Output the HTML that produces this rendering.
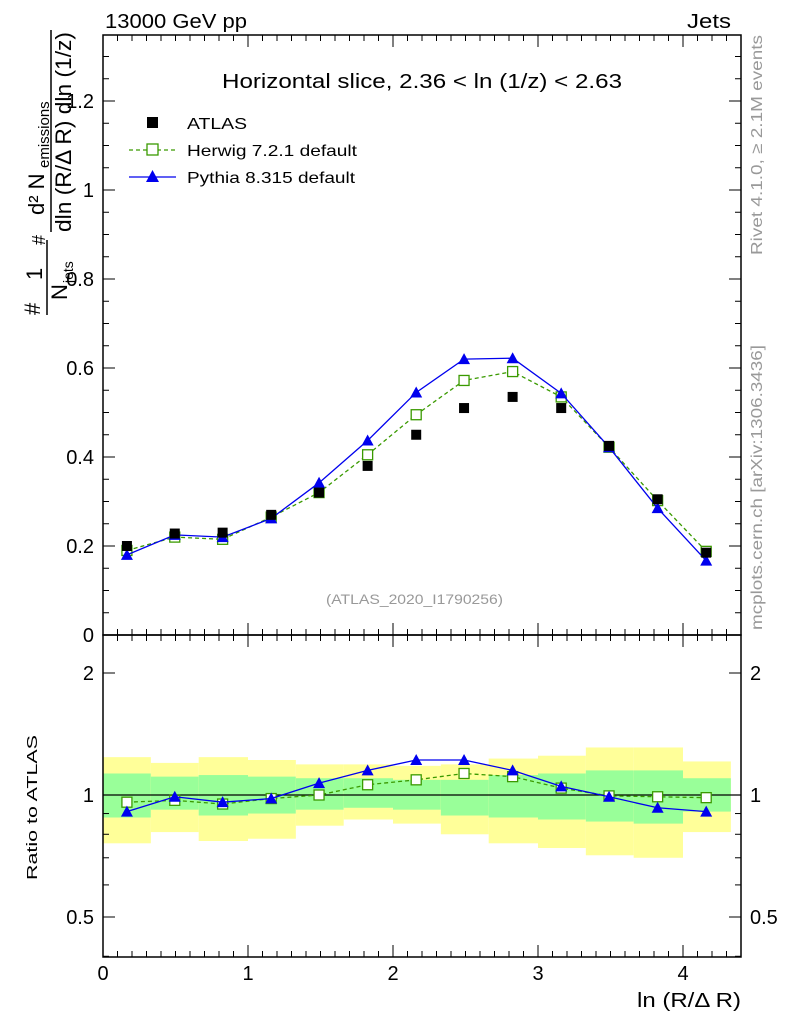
<!DOCTYPE html>
<html><head><meta charset="utf-8"><style>
body{margin:0;background:#fff;}
svg text{font-family:"Liberation Sans",sans-serif;}
</style></head><body>
<svg id="c" width="786" height="1024" viewBox="0 0 786 1024" xmlns="http://www.w3.org/2000/svg">
<g id="bands"></g>
<g id="main"></g>
<g id="ratio"></g>
<g id="axes"></g>
<text x="105" y="28" font-size="20" textLength="142" lengthAdjust="spacingAndGlyphs">13000 GeV pp</text>
<text x="687" y="28" font-size="20" textLength="44" lengthAdjust="spacingAndGlyphs">Jets</text>
<text x="222" y="88" font-size="20" textLength="400" lengthAdjust="spacingAndGlyphs">Horizontal slice, 2.36 &lt; ln (1/z) &lt; 2.63</text>
<text x="326" y="604" font-size="14" fill="#999" textLength="177" lengthAdjust="spacingAndGlyphs">(ATLAS_2020_I1790256)</text>
<text transform="translate(762,255) rotate(-90)" font-size="16" fill="#999" textLength="220" lengthAdjust="spacingAndGlyphs">Rivet 4.1.0, ≥ 2.1M events</text>
<text transform="translate(762,630) rotate(-90)" font-size="16" fill="#999" textLength="285" lengthAdjust="spacingAndGlyphs">mcplots.cern.ch [arXiv:1306.3436]</text>
<g>
<text transform="translate(40,315) rotate(-90)" font-size="22">#</text>
<text transform="translate(42,280) rotate(-90)" font-size="22">1</text>
<line x1="47" y1="240" x2="47" y2="315" stroke="#000" stroke-width="1.5"/>
<text transform="translate(67,300) rotate(-90)" font-size="22">N</text>
<text transform="translate(73,283) rotate(-90)" font-size="14">jets</text>
<text transform="translate(45,245) rotate(-90)" font-size="18">#</text>
<text transform="translate(44,215) rotate(-90)" font-size="22">d² N</text>
<text transform="translate(49,168) rotate(-90)" font-size="15">emissions</text>
<line x1="51" y1="30" x2="51" y2="232" stroke="#000" stroke-width="1.5"/>
<text transform="translate(71,232) rotate(-90)" font-size="22" textLength="200" lengthAdjust="spacingAndGlyphs">dln (R/Δ R) dln (1/z)</text>
</g>
<text transform="translate(37,880) rotate(-90)" font-size="15" textLength="145" lengthAdjust="spacingAndGlyphs">Ratio to ATLAS</text>
<text x="637" y="1007" font-size="20" textLength="104" lengthAdjust="spacingAndGlyphs">ln (R/Δ R)</text>
<g>
<rect x="147" y="117" width="11" height="11" fill="#000"/>
<text x="187" y="129" font-size="16" textLength="60" lengthAdjust="spacingAndGlyphs">ATLAS</text>
<line x1="129" y1="150" x2="176" y2="150" stroke="#3a9a00" stroke-dasharray="4,3" stroke-width="1.3"/>
<rect x="147" y="144" width="11" height="11" fill="#fff" stroke="#3a9a00" stroke-width="1.3"/>
<text x="187" y="156" font-size="16" textLength="170" lengthAdjust="spacingAndGlyphs">Herwig 7.2.1 default</text>
<line x1="129" y1="177" x2="176" y2="177" stroke="#0000ee" stroke-width="1.3"/>
<polygon points="152.5,170 159,182 146,182" fill="#0000ee"/>
<text x="187" y="183" font-size="16" textLength="168" lengthAdjust="spacingAndGlyphs">Pythia 8.315 default</text>
</g>
</svg>
<script>
const xCenters=[0.165,0.495,0.825,1.16,1.49,1.825,2.16,2.49,2.825,3.16,3.49,3.825,4.16];
const binEdges=[0,0.33,0.66,1.0,1.33,1.66,2.0,2.33,2.66,3.0,3.33,3.66,4.0,4.33];
const atlas=[0.2,0.228,0.23,0.27,0.32,0.38,0.45,0.51,0.535,0.51,0.425,0.305,0.185];
const herwig=[0.19,0.22,0.215,0.265,0.32,0.405,0.495,0.572,0.592,0.535,0.422,0.302,0.188];
const pythia=[0.18,0.225,0.22,0.262,0.342,0.437,0.545,0.62,0.622,0.543,0.422,0.285,0.167];
const herwigRatio=[0.96,0.97,0.95,0.98,1.0,1.06,1.09,1.13,1.11,1.04,0.995,0.99,0.985];
const pythiaRatio=[0.91,0.99,0.96,0.98,1.07,1.15,1.22,1.22,1.15,1.05,0.99,0.93,0.91];
const yellowUp=[1.24,1.20,1.24,1.22,1.19,1.19,1.18,1.19,1.23,1.25,1.31,1.31,1.21];
const yellowDown=[0.76,0.81,0.77,0.78,0.84,0.87,0.85,0.80,0.76,0.74,0.71,0.70,0.81];
const greenUp=[1.13,1.11,1.12,1.11,1.10,1.10,1.09,1.09,1.12,1.13,1.15,1.15,1.10];
const greenDown=[0.88,0.92,0.89,0.90,0.92,0.93,0.92,0.89,0.88,0.87,0.86,0.85,0.91];
const xTicks=[0,1,2,3,4];
const yTicks=[0,0.2,0.4,0.6,0.8,1,1.2];
const yTickLabels=["0","0.2","0.4","0.6","0.8","1","1.2"];
const rTicks=[0.5,1,2];
const rTickLabels=["0.5","1","2"];

const NS="http://www.w3.org/2000/svg";
const L=103,R=741,T=35,MB=635,RB=957;
const sx=v=>L+v*145;
const sy=v=>MB-v*445;
const sr=v=>795-Math.log2(v)*122;
function mk(parent,tag,attrs){const e=document.createElementNS(NS,tag);for(const k in attrs)e.setAttribute(k,attrs[k]);document.getElementById(parent).appendChild(e);return e;}

for(let i=0;i<xCenters.length;i++){
 let e=mk('bands','rect',{x:sx(binEdges[i]),width:sx(binEdges[i+1])-sx(binEdges[i]),y:sr(yellowUp[i]),height:sr(yellowDown[i])-sr(yellowUp[i]),fill:'#ffff99'});
 
 
 e=mk('bands','rect',{x:sx(binEdges[i]),width:sx(binEdges[i+1])-sx(binEdges[i]),y:sr(greenUp[i]),height:sr(greenDown[i])-sr(greenUp[i]),fill:'#99ff99'});
 
 
}
let ln=mk('ratio','line',{x1:L,x2:R,y1:sr(1),y2:sr(1),stroke:'#000','stroke-width':1.3});



function series(g,xs,ys,f,color,dash,marker,name){
 const p=mk(g,'polyline',{points:xs.map((x,i)=>sx(x)+','+f(ys[i])).join(' '),fill:'none',stroke:color,'stroke-width':1.3});
 if(dash)p.setAttribute('stroke-dasharray','4,3');
 
 
 xs.forEach((x,i)=>{const X=sx(x),Y=f(ys[i]);let m;
  if(marker==='sq')m=mk(g,'rect',{x:X-5,y:Y-5,width:10,height:10,fill:'#fff',stroke:color,'stroke-width':1.3});
  else m=mk(g,'polygon',{points:`${X},${Y-6} ${X+6},${Y+5} ${X-6},${Y+5}`,fill:color});
  
  
 });
}
series('main',xCenters,herwig,sy,'#3a9a00',true,'sq','herwig');
series('main',xCenters,pythia,sy,'#0000ee',false,'tri','pythia');
xCenters.forEach((x,i)=>{const m=mk('main','rect',{x:sx(x)-5,y:sy(atlas[i])-5,width:10,height:10,fill:'#000'});
 
 });
series('ratio',xCenters,herwigRatio,sr,'#3a9a00',true,'sq','herwig-ratio');
series('ratio',xCenters,pythiaRatio,sr,'#0000ee',false,'tri','pythia-ratio');

[[T,MB],[MB,RB]].forEach(([a,b])=>{const f=mk('axes','rect',{x:L,y:a,width:R-L,height:b-a,fill:'none',stroke:'#000','stroke-width':1.5});
 
 });
for(let v=0;v<=4.4;v+=0.1){const X=sx(v),major=Math.abs(v-Math.round(v))<1e-6,len=major?12:6;
 [[T,1],[MB,-1],[MB,1],[RB,-1]].forEach(([y0,d])=>mk('axes','line',{x1:X,x2:X,y1:y0,y2:y0+d*len,stroke:'#000'}));}
xTicks.forEach(v=>{const t=mk('axes','text',{x:sx(v),y:980,'font-size':20,'text-anchor':'middle'});t.textContent=v;
 
 });
for(let v=0;v<=1.34;v+=0.05){const Y=sy(v),major=Math.abs(v*5-Math.round(v*5))<1e-6,len=major?12:6;
 mk('axes','line',{x1:L,x2:L+len,y1:Y,y2:Y,stroke:'#000'});mk('axes','line',{x1:R,x2:R-len,y1:Y,y2:Y,stroke:'#000'});}
yTicks.forEach((v,i)=>{const t=mk('axes','text',{x:94,y:sy(v)+7,'font-size':20,'text-anchor':'end'});t.textContent=yTickLabels[i];
 
 });
[0.4,0.5,0.6,0.7,0.8,0.9,1,2].forEach(v=>{const Y=sr(v),len=(v===0.5||v===1||v===2)?12:6;
 mk('axes','line',{x1:L,x2:L+len,y1:Y,y2:Y,stroke:'#000'});mk('axes','line',{x1:R,x2:R-len,y1:Y,y2:Y,stroke:'#000'});});
rTicks.forEach((v,i)=>{[[94,'end'],[750,'start']].forEach(([x,a])=>{const t=mk('axes','text',{x:x,y:sr(v)+7,'font-size':20,'text-anchor':a});t.textContent=rTickLabels[i];
 
 });});
</script>
</body></html>
